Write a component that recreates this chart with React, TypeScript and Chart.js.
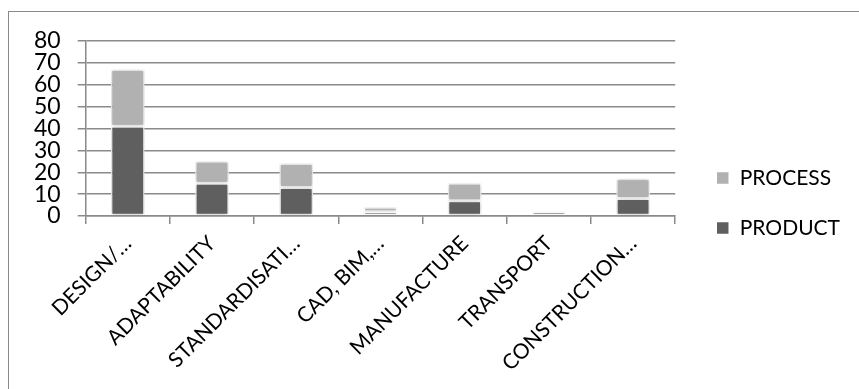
import React, { useEffect, useRef } from "react";
import { Chart, registerables } from "chart.js";

Chart.register(...registerables);

// Categories as they appear on the axis (long names shortened with an ellipsis)
const categories = [
  "DESIGN/…",
  "ADAPTABILITY",
  "STANDARDISATI…",
  "CAD, BIM,…",
  "MANUFACTURE",
  "TRANSPORT",
  "CONSTRUCTION…",
];

// Stacked counts per category
const productValues = [41, 15, 13, 2, 7, 2, 8];
const processValues = [26, 10, 11, 2, 8, 0, 9];

// Value axis ticks
const yTicks = [0, 10, 20, 30, 40, 50, 60, 70, 80];

const FONT = "Lato, 'Open Sans', 'Liberation Sans', sans-serif";

// Soft drop shadow behind the bars
const barShadow = {
  id: "barShadow",
  beforeDatasetsDraw(chart: any) {
    const ctx = chart.ctx;
    ctx.save();
    ctx.shadowColor = "rgba(0,0,0,0.28)";
    ctx.shadowBlur = 4;
    ctx.shadowOffsetX = 0;
    ctx.shadowOffsetY = 0;
  },
  afterDatasetsDraw(chart: any) {
    chart.ctx.restore();
  },
};

// Moves the legend block away from the plot area by a configurable offset
const legendOffset = {
  id: "legendOffset",
  afterLayout(chart: any, _args: any, opts: any) {
    const lg = chart.legend;
    if (!lg) return;
    const dx = opts.dx || 0;
    const dy = opts.dy || 0;
    lg.left += dx;
    lg.right += dx;
    lg.top += dy;
    lg.bottom += dy;
  },
};

export default function App() {
  const canvasRef = useRef<HTMLCanvasElement | null>(null);

  useEffect(() => {
    if (!canvasRef.current) return;
    const chart = new Chart(canvasRef.current, {
      type: "bar",
      data: {
        labels: categories,
        datasets: [
          {
            label: "PRODUCT",
            data: productValues,
            backgroundColor: "#5f5f5f",
            borderColor: "#ffffff",
            borderWidth: 1.5,
            borderSkipped: false,
            barPercentage: 0.4,
            categoryPercentage: 1,
          },
          {
            label: "PROCESS",
            data: processValues,
            backgroundColor: "#b1b1b1",
            borderColor: "#ffffff",
            borderWidth: 1.5,
            borderSkipped: false,
            barPercentage: 0.4,
            categoryPercentage: 1,
          },
        ],
      },
      options: {
        animation: false,
        responsive: false,
        maintainAspectRatio: false,
        layout: { padding: { top: 29, left: 8, right: 21, bottom: 6 } },
        plugins: {
          tooltip: { enabled: false },
          legendOffset: { dx: 12, dy: -9 },
          legend: {
            position: "right",
            reverse: true,
            labels: {
              boxWidth: 13,
              boxHeight: 13,
              padding: 29,
              color: "#000000",
              font: { family: FONT, size: 21 },
            },
          },
        } as any,
        scales: {
          x: {
            stacked: true,
            grid: {
              display: true,
              drawOnChartArea: false,
              drawTicks: true,
              tickLength: 8,
              color: "#8a8a8a",
              lineWidth: 1.5,
              offset: true,
            },
            border: { display: true, color: "#8a8a8a", width: 1.5 },
            ticks: {
              autoSkip: false,
              minRotation: 45,
              maxRotation: 45,
              padding: 7,
              color: "#000000",
              font: { family: FONT, size: 21 },
            },
          },
          y: {
            stacked: true,
            min: yTicks[0],
            max: yTicks[yTicks.length - 1],
            afterBuildTicks(scale: any) {
              scale.ticks = yTicks.map((v) => ({ value: v }));
            },
            grid: {
              color: "#8a8a8a",
              lineWidth: 1.5,
              tickLength: 8,
              drawTicks: true,
            },
            border: { display: true, color: "#8a8a8a", width: 1.5 },
            ticks: {
              autoSkip: false,
              padding: 17,
              color: "#000000",
              font: { family: FONT, size: 23, lineHeight: 1 },
            },
          },
        } as any,
      },
      plugins: [barShadow, legendOffset],
    });
    return () => chart.destroy();
  }, []);

  return (
    <div
      style={{
        position: "fixed",
        left: 8,
        top: 11,
        width: 851,
        height: 378,
        borderTop: "1px solid #8a8a8a",
        borderLeft: "1px solid #8a8a8a",
        boxSizing: "border-box",
        background: "#ffffff",
      }}
    >
      <canvas ref={canvasRef} width={850} height={377} style={{ display: "block" }} />
    </div>
  );
}
